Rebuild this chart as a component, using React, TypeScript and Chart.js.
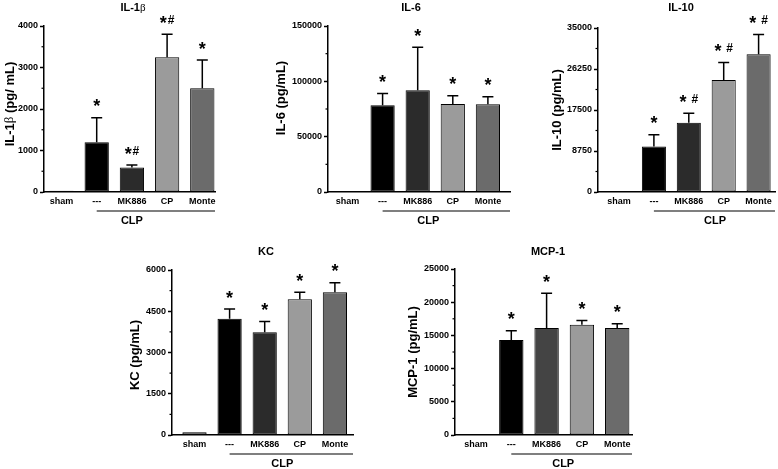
import React, { useEffect, useRef } from 'react';
import { Chart, registerables } from 'chart.js';

Chart.register(...registerables);

const FONT = "'Liberation Sans', Arial, Helvetica, sans-serif";
const SERIF = "'Liberation Serif', 'DejaVu Serif', serif";
const W = 778;
const H = 469;

// ---- data ----
const categories = ['sham', '---', 'MK886', 'CP', 'Monte'];
const categoryPositions = [0, 1, 2, 3, 4];
const barColors = ['#ffffff', '#000000', '#2b2b2b', '#9b9b9b', '#6b6b6b'];
const mcpBarColors = ['#ffffff', '#000000', '#444444', '#9b9b9b', '#6b6b6b'];

const il1bMean = [30, 1200, 590, 3250, 2500];
const il1bSem = [0, 590, 60, 550, 680];
const il1bMarks = ['', '*', '*#', '*#', '*'];
const il1bTicks = [0, 1000, 2000, 3000, 4000];

const il6Mean = [0, 78500, 92000, 79500, 79400];
const il6Sem = [0, 10500, 38700, 7500, 6700];
const il6Marks = ['', '*', '*', '*', '*'];
const il6Ticks = [0, 50000, 100000, 150000];

const il10Mean = [0, 9700, 14800, 23900, 29400];
const il10Sem = [0, 2500, 2000, 3750, 4200];
const il10Marks = ['', '*', '* #', '* #', '* #'];
const il10Ticks = [0, 8750, 17500, 26250, 35000];

const kcMean = [100, 4230, 3735, 4935, 5190];
const kcSem = [0, 350, 390, 255, 350];
const kcMarks = ['', '*', '*', '*', '*'];
const kcTicks = [0, 1500, 3000, 4500, 6000];

const mcpMean = [100, 14300, 16100, 16600, 16100];
const mcpSem = [0, 1400, 5250, 650, 650];
const mcpMarks = ['', '*', '*', '*', '*'];
const mcpTicks = [0, 5000, 10000, 15000, 20000, 25000];

const groupLabel = 'CLP';

type Panel = {
  title: string;
  yTitle: string;
  mean: number[];
  sem: number[];
  marks: string[];
  ticks: number[];
  colors: string[];
  // layout (pixels)
  axisX: number;
  rightX: number;
  topY: number;
  zeroY: number;
  shamX: number;
  step: number;
  titleX: number;
  titleY: number;
  yTitleX: number;
  yTitleY: number;
  clpAt: number;
};

const panels: Panel[] = [
  {
    title: 'IL-1β', yTitle: 'IL-1β (pg/ mL)', mean: il1bMean, sem: il1bSem, marks: il1bMarks, ticks: il1bTicks, colors: barColors,
    axisX: 44, rightX: 215, topY: 26, zeroY: 192, shamX: 61.5, step: 35.2,
    titleX: 133, titleY: 8, yTitleX: 10, yTitleY: 104, clpAt: 2.0,
  },
  {
    title: 'IL-6', yTitle: 'IL-6 (pg/mL)', mean: il6Mean, sem: il6Sem, marks: il6Marks, ticks: il6Ticks, colors: barColors,
    axisX: 328, rightX: 510, topY: 26, zeroY: 192, shamX: 347.5, step: 35.1,
    titleX: 411, titleY: 8, yTitleX: 281, yTitleY: 98, clpAt: 2.3,
  },
  {
    title: 'IL-10', yTitle: 'IL-10 (pg/mL)', mean: il10Mean, sem: il10Sem, marks: il10Marks, ticks: il10Ticks, colors: barColors,
    axisX: 598, rightX: 775, topY: 28, zeroY: 192, shamX: 619, step: 34.9,
    titleX: 681, titleY: 8, yTitleX: 557, yTitleY: 110, clpAt: 2.75,
  },
  {
    title: 'KC', yTitle: 'KC (pg/mL)', mean: kcMean, sem: kcSem, marks: kcMarks, ticks: kcTicks, colors: barColors,
    axisX: 172, rightX: 353, topY: 270, zeroY: 435, shamX: 194.5, step: 35.1,
    titleX: 266, titleY: 252, yTitleX: 135, yTitleY: 355, clpAt: 2.5,
  },
  {
    title: 'MCP-1', yTitle: 'MCP-1 (pg/mL)', mean: mcpMean, sem: mcpSem, marks: mcpMarks, ticks: mcpTicks, colors: mcpBarColors,
    axisX: 455, rightX: 632, topY: 269, zeroY: 435, shamX: 476, step: 35.3,
    titleX: 548, titleY: 252, yTitleX: 413, yTitleY: 352, clpAt: 2.47,
  },
];

function drawRich(ctx: CanvasRenderingContext2D, text: string, cx: number, cy: number, size: number) {
  const parts = text.split(/(β)/).filter((p) => p.length > 0);
  const fontFor = (p: string) => (p === 'β' ? `${size}px ${SERIF}` : `bold ${size}px ${FONT}`);
  let total = 0;
  const widths = parts.map((p) => {
    ctx.font = fontFor(p);
    const w = ctx.measureText(p).width;
    total += w;
    return w;
  });
  let x = cx - total / 2;
  ctx.textBaseline = 'middle';
  ctx.textAlign = 'left';
  ctx.fillStyle = '#000';
  parts.forEach((p, i) => {
    ctx.font = fontFor(p);
    ctx.fillText(p, x, cy);
    x += widths[i];
  });
}

function drawMark(ctx: CanvasRenderingContext2D, text: string, cx: number, cy: number) {
  const chars = Array.from(text);
  const fontFor = (c: string) => (c === '*' ? `bold 18px ${FONT}` : `bold 12px ${FONT}`);
  const gap = 0.8;
  let total = 0;
  const widths = chars.map((c) => {
    ctx.font = fontFor(c);
    const w = ctx.measureText(c).width;
    total += w;
    return w;
  });
  total += gap * (chars.length - 1);
  let x = cx - total / 2;
  ctx.textAlign = 'left';
  ctx.textBaseline = 'alphabetic';
  ctx.fillStyle = '#000';
  chars.forEach((c, i) => {
    if (c !== ' ') {
      ctx.font = fontFor(c);
      const m = ctx.measureText(c);
      const y = cy + (m.actualBoundingBoxAscent - m.actualBoundingBoxDescent) / 2;
      ctx.fillText(c, x, y);
    }
    x += widths[i] + gap;
  });
}

function makeDecor(p: Panel) {
  return {
    id: 'decor',
    afterDatasetsDraw(chart: any) {
      const ctx: CanvasRenderingContext2D = chart.ctx;
      const yScale = chart.scales.y;
      const meta = chart.getDatasetMeta(0);
      ctx.save();
      ctx.strokeStyle = '#000';
      ctx.lineWidth = 1.5;
      meta.data.forEach((bar: any, i: number) => {
        const s = p.sem[i];
        if (!s) return;
        const yTop = yScale.getPixelForValue(p.mean[i]);
        const yErr = yScale.getPixelForValue(p.mean[i] + s);
        ctx.beginPath();
        ctx.moveTo(bar.x, yTop);
        ctx.lineTo(bar.x, yErr);
        ctx.moveTo(bar.x - 5.5, yErr);
        ctx.lineTo(bar.x + 5.5, yErr);
        ctx.stroke();
      });
      ctx.restore();
    },
    afterDraw(chart: any) {
      const ctx: CanvasRenderingContext2D = chart.ctx;
      const yScale = chart.scales.y;
      const xScale = chart.scales.x;
      const area = chart.chartArea;
      ctx.save();
      // minor ticks
      ctx.strokeStyle = '#000';
      ctx.lineWidth = 1.2;
      for (let k = 0; k < p.ticks.length - 1; k++) {
        const y = yScale.getPixelForValue((p.ticks[k] + p.ticks[k + 1]) / 2);
        ctx.beginPath();
        ctx.moveTo(area.left - 2.5, y);
        ctx.lineTo(area.left, y);
        ctx.stroke();
      }
      // significance marks
      p.marks.forEach((m, i) => {
        if (!m) return;
        const x = xScale.getPixelForValue(categoryPositions[i]);
        const yErr = yScale.getPixelForValue(p.mean[i] + p.sem[i]);
        drawMark(ctx, m, x, yErr - 15);
      });
      // titles
      drawRich(ctx, p.title, p.titleX, p.titleY, 11);
      ctx.save();
      ctx.translate(p.yTitleX, p.yTitleY);
      ctx.rotate(-Math.PI / 2);
      drawRich(ctx, p.yTitle, 0, 0, 13);
      ctx.restore();
      // CLP group line
      const x1 = xScale.getPixelForValue(categoryPositions[1]);
      const lineY = area.bottom + 19;
      ctx.strokeStyle = '#000';
      ctx.lineWidth = 1.2;
      ctx.beginPath();
      ctx.moveTo(x1, lineY);
      ctx.lineTo(area.right, lineY);
      ctx.stroke();
      drawRich(ctx, groupLabel, xScale.getPixelForValue(p.clpAt), area.bottom + 29, 11);
      ctx.restore();
    },
  };
}

function PanelChart({ p }: { p: Panel }) {
  const ref = useRef<HTMLCanvasElement>(null);
  useEffect(() => {
    const canvas = ref.current;
    if (!canvas) return;
    const yW = 40;
    const xH = 20;
    const xmin = -(p.shamX - p.axisX) / p.step;
    const xmax = (p.rightX - p.shamX) / p.step;
    const tickFont = { family: FONT, size: 9, weight: 'bold' as const };
    const chart = new Chart(canvas, {
      type: 'bar',
      data: {
        datasets: [
          {
            data: categoryPositions.map((x, i) => ({ x, y: p.mean[i] })),
            backgroundColor: p.colors,
            borderColor: '#000',
            borderWidth: 1,
            borderSkipped: false,
            categoryPercentage: 1,
            barPercentage: 0.69,
          },
        ],
      },
      options: {
        responsive: false,
        animation: false,
        events: [],
        layout: {
          padding: {
            left: p.axisX - yW,
            right: W - p.rightX,
            top: p.topY,
            bottom: H - p.zeroY - xH,
          },
        },
        plugins: {
          legend: { display: false },
          tooltip: { enabled: false },
          title: { display: false },
        },
        scales: {
          x: {
            type: 'linear',
            offset: false,
            min: xmin,
            max: xmax,
            grid: { display: false, drawTicks: false },
            border: { display: true, color: '#000', width: 1.5 },
            ticks: {
              font: tickFont,
              color: '#000',
              padding: 4,
              autoSkip: false,
              maxRotation: 0,
              callback: (_v: any, i: number) => categories[i],
            },
            afterBuildTicks: (s: any) => {
              s.ticks = categoryPositions.map((v) => ({ value: v }));
            },
            afterFit: (s: any) => {
              s.height = xH;
            },
          },
          y: {
            type: 'linear',
            min: 0,
            max: p.ticks[p.ticks.length - 1],
            grid: {
              display: true,
              drawOnChartArea: false,
              drawTicks: true,
              tickLength: 4,
              color: '#000',
              tickWidth: 1.5,
            },
            border: { display: true, color: '#000', width: 1.5 },
            ticks: {
              font: tickFont,
              color: '#000',
              padding: 2,
              callback: (v: any) => String(v),
            },
            afterBuildTicks: (s: any) => {
              s.ticks = p.ticks.map((v) => ({ value: v }));
            },
            afterFit: (s: any) => {
              s.width = yW;
            },
          },
        },
      } as any,
      plugins: [makeDecor(p)],
    });
    return () => chart.destroy();
  }, [p]);
  return (
    <canvas
      ref={ref}
      width={W}
      height={H}
      style={{ position: 'absolute', left: 0, top: 0, width: W, height: H }}
    />
  );
}

export default function App() {
  return (
    <div style={{ position: 'absolute', left: 0, top: 0, width: W, height: H, background: '#fff' }}>
      {panels.map((p) => (
        <PanelChart key={p.title} p={p} />
      ))}
    </div>
  );
}
